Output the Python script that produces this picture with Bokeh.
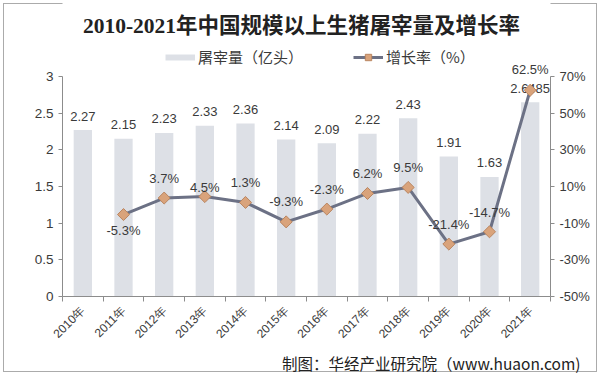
import math
from bokeh.plotting import figure
from bokeh.models import (ColumnDataSource, Range1d, LinearAxis, FixedTicker,
                          PrintfTickFormatter, Legend, LegendItem, Label, Title)
from bokeh.embed import file_html
from bokeh.resources import INLINE
from bokeh.core.properties import value

# ---- data ----
categories = ["2010年", "2011年", "2012年", "2013年", "2014年", "2015年",
              "2016年", "2017年", "2018年", "2019年", "2020年", "2021年"]
slaughter = [2.27, 2.15, 2.23, 2.33, 2.36, 2.14, 2.09, 2.22, 2.43, 1.91, 1.63, 2.6485]
slaughter_text = ["2.27", "2.15", "2.23", "2.33", "2.36", "2.14", "2.09", "2.22",
                  "2.43", "1.91", "1.63", "2.6485"]
growth_categories = categories[1:]
growth = [-5.3, 3.7, 4.5, 1.3, -9.3, -2.3, 6.2, 9.5, -21.4, -14.7, 62.5]
growth_text = ["-5.3%", "3.7%", "4.5%", "1.3%", "-9.3%", "-2.3%", "6.2%",
               "9.5%", "-21.4%", "-14.7%", "62.5%"]
left_ticks = [0, 0.5, 1, 1.5, 2, 2.5, 3]
right_ticks = [-50, -30, -10, 10, 30, 50, 70]
title_text = "2010-2021年中国规模以上生猪屠宰量及增长率"
source_text = "制图：华经产业研究院（www.huaon.com)"

# label placement (screen px, negative = up)
growth_label_offset = [16, -20, -9, -20, -20, -20, -20, -20, -20, -19, -21]

x_idx = list(range(len(categories)))
gx_idx = [categories.index(c) for c in growth_categories]

bar_src = ColumnDataSource(dict(x=x_idx, y=slaughter, t=slaughter_text))
line_src = ColumnDataSource(dict(x=gx_idx, y=growth, t=growth_text, dy=growth_label_offset))

# layout: frame spans full height above the x axis; axis lines bounded to the tick span
FRAME_H = 296
AXIS_H = 220  # pixel height of the 0..3 / -50..70 span
L0, L1 = left_ticks[0], left_ticks[-1]
R0, R1 = right_ticks[0], right_ticks[-1]
left_end = L0 + (L1 - L0) * FRAME_H / AXIS_H
right_end = R0 + (R1 - R0) * FRAME_H / AXIS_H

FONT = "Liberation Sans"
TXT = "#3a3a3a"
AX = "#8c8c8c"
BAR = "#dde0e6"

p = figure(width=600, height=375, output_backend="svg", toolbar_location=None,
           x_range=Range1d(-0.5, len(categories) - 0.5), y_range=Range1d(L0, left_end),
           min_border_left=62, min_border_right=50, min_border_top=0, min_border_bottom=79,
           title=None)
p.styles = {"background": "white",
            "box-shadow": "inset 0 0 0 3px #ffffff, inset 0 0 0 4px #ababab"}
p.extra_y_ranges = {"pct": Range1d(R0, right_end)}
p.xgrid.visible = False
p.ygrid.visible = False
p.outline_line_color = None
p.background_fill_color = "white"
p.border_fill_alpha = 0

bars = p.vbar(x="x", top="y", width=0.45, source=bar_src, fill_color=BAR, line_color=None)
p.text(x="x", y="y", text="t", source=bar_src, text_align="center", text_baseline="middle",
       y_offset=-14, text_font=value(FONT), text_font_size="13px", text_color=TXT)

ln = p.line(x="x", y="y", source=line_src, y_range_name="pct", line_color="#6c7185", line_width=3)
mk = p.scatter(x="x", y="y", source=line_src, y_range_name="pct", marker="square", size=8.5,
               angle=math.pi / 4, fill_color="#d9a37b", line_color="#b98560", line_width=1)
p.text(x="x", y="y", text="t", source=line_src, y_range_name="pct", text_align="center",
       text_baseline="middle", y_offset="dy", text_font=value(FONT), text_font_size="13px",
       text_color=TXT)

# legend key for the bars: a single-point line (draws nothing in the plot, a thin band in the legend)
bar_key = p.line(x=x_idx[:1], y=slaughter[:1], line_color=BAR, line_width=6)

# axes
xa = p.xaxis[0]
xa.ticker = FixedTicker(ticks=x_idx, minor_ticks=[i - 0.5 for i in x_idx] + [x_idx[-1] + 0.5])
xa.major_label_overrides = {i: c for i, c in zip(x_idx, categories)}
xa.major_label_orientation = math.pi / 4
xa.major_tick_line_color = None
xa.minor_tick_in = 0
xa.minor_tick_out = 5
xa.minor_tick_line_color = AX
xa.axis_line_color = AX
xa.major_label_text_font = FONT
xa.major_label_text_font_size = "12px"
xa.major_label_text_color = TXT
xa.major_label_standoff = 6

ya = p.yaxis[0]
ya.ticker = FixedTicker(ticks=left_ticks)
ya.bounds = (L0, L1)
ya.major_tick_in = 0
ya.major_tick_out = 4
ya.minor_tick_line_color = None
ya.axis_line_color = AX
ya.major_tick_line_color = AX
ya.major_label_text_font = FONT
ya.major_label_text_font_size = "13.5px"
ya.major_label_text_color = TXT

ra = LinearAxis(y_range_name="pct", ticker=FixedTicker(ticks=right_ticks),
                formatter=PrintfTickFormatter(format="%d%%"), bounds=(R0, R1))
ra.major_tick_in = 0
ra.major_tick_out = 4
ra.minor_tick_line_color = None
ra.axis_line_color = AX
ra.major_tick_line_color = AX
ra.major_label_text_font = FONT
ra.major_label_text_font_size = "13px"
ra.major_label_text_color = TXT
p.add_layout(ra, "right")

legend = Legend(items=[LegendItem(label="屠宰量（亿头）", renderers=[bar_key]),
                       LegendItem(label="增长率（%）", renderers=[ln, mk])],
                orientation="horizontal", location=(103, 229), border_line_color=None,
                background_fill_alpha=0, label_text_font="Noto Sans CJK SC",
                label_text_font_size="15px", label_text_color=TXT, glyph_width=30,
                glyph_height=16, spacing=50, padding=0, margin=0, label_standoff=3,
                label_height=16)
p.add_layout(legend, "center")

p.add_layout(Label(x=239, y=271, x_units="screen", y_units="screen", text=title_text,
                   text_align="center", text_baseline="middle",
                   text_font="Liberation Serif, Noto Sans CJK SC", text_font_size="21.5px",
                   text_font_style="bold", text_color="#222222"))

p.add_layout(Title(text=source_text, align="right", offset=-30, standoff=3,
                   text_font="Noto Sans CJK SC", text_font_size="15.5px",
                   text_font_style="normal", text_color="#222222"), "below")

open("out.html", "w").write(file_html(p, INLINE))
